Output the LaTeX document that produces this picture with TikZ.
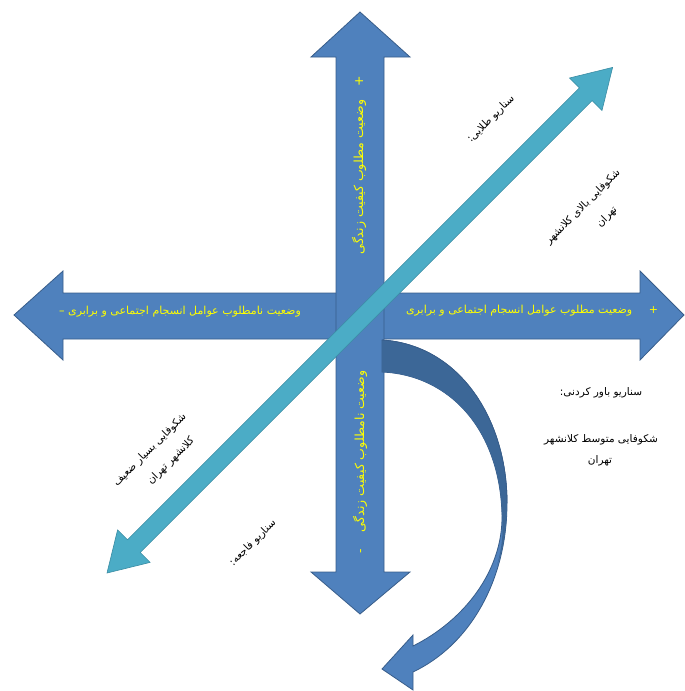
\documentclass[tikz,border=0pt]{standalone}
\usepackage{fontspec}
\newfontfamily\arfont[Script=Arabic]{DejaVu Sans}
\TeXXeTstate=1
\definecolor{bluefill}{HTML}{4F81BD}
\definecolor{blueline}{HTML}{385D8A}
\definecolor{bluedark}{HTML}{3C6797}
\definecolor{tealfill}{HTML}{4BACC6}
\definecolor{tealline}{HTML}{3A8CA3}
\definecolor{ylw}{HTML}{FFFF00}
\tikzset{
  bluearrow/.style={fill=bluefill, draw=blueline, line width=0.8pt, line join=miter},
  tealarrow/.style={fill=tealfill, draw=tealline, line width=0.6pt},
  ylab/.style={text=ylw, font=\arfont\fontsize{11}{13}\selectfont, inner sep=0pt},
  yvlab/.style={text=ylw, font=\arfont\fontsize{12.5}{14}\selectfont, inner sep=0pt},
  blab/.style={text=black, font=\arfont\fontsize{10.5}{12}\selectfont, inner sep=0pt},
}
\begin{document}
\begin{tikzpicture}[x=1pt, y=-1pt]
\useasboundingbox (0,0) rectangle (685,691);
% horizontal double arrow
\draw[bluearrow] (14,315) -- (63,271) -- (63,293) -- (640,293) -- (640,271) -- (684,315)
  -- (640,360) -- (640,339) -- (63,339) -- (63,360) -- cycle;
% vertical double arrow
\draw[bluearrow] (360,12) -- (410,57) -- (384,57) -- (384,572) -- (410,572) -- (360,614)
  -- (311,572) -- (336,572) -- (336,57) -- (311,57) -- cycle;
% curved arrow
\draw[bluearrow] (382,340) .. controls (460,345) and (507,420) .. (507,503)
  .. controls (507,580) and (470,645) .. (413,672)
  -- (413,690) -- (382,669) -- (413,635) -- (413,646)
  .. controls (465,620) and (503,570) .. (502,515)
  .. controls (500,430) and (450,375) .. (382,372) -- cycle;
\fill[bluedark] (382,340) .. controls (460,345) and (507,420) .. (507,503)
  .. controls (507,530) and (503,550) .. (497,565)
  .. controls (503,545) and (503,530) .. (502,515)
  .. controls (500,430) and (450,375) .. (382,372) -- cycle;
\draw[blueline, line width=0.8pt] (382,340) .. controls (460,345) and (507,420) .. (507,503);
% diagonal teal double arrow
\begin{scope}[shift={(107,573)}, rotate=45]
\draw[tealarrow] (0,0) -- (38,23) -- (38,9) -- (677,9) -- (677,23) -- (715,0)
  -- (677,-23) -- (677,-9) -- (38,-9) -- (38,-23) -- cycle;
\end{scope}
% yellow labels on the arrows
\node[yvlab, rotate=90] (vtop) at (359,165) {\beginR +\hspace{1.1em}وضعیت مطلوب کیفیت زندگی\endR};
\node[yvlab, rotate=90] (vbot) at (360,462) {\beginR وضعیت نامطلوب کیفیت زندگی\hspace{1.3em}-\endR};
\node[ylab] (hleft) at (180,312) {\beginR وضعیت نامطلوب عوامل انسجام اجتماعی و برابری –\endR};
\node[ylab] (hright) at (532,311) {\beginR +\hspace{1.5em}وضعیت مطلوب عوامل انسجام اجتماعی و برابری\endR};
% black scenario labels
\node[blab, rotate=45] (gold) at (491,119) {\beginR سناریو طلایی:\endR};
\node[blab, rotate=45] (high1) at (583,207) {\beginR شکوفایی بالای کلانشهر\endR};
\node[blab, rotate=45] (high2) at (607,217) {\beginR تهران\endR};
\node[blab] (bel) at (601,393) {\beginR سناریو باور کردنی:\endR};
\node[blab] (mid1) at (601,440) {\beginR شکوفایی متوسط کلانشهر\endR};
\node[blab] (mid2) at (600,461) {\beginR تهران\endR};
\node[blab, rotate=45] (low1) at (150,450) {\beginR شکوفایی بسیار ضعیف\endR};
\node[blab, rotate=45] (low2) at (171,461) {\beginR کلانشهر تهران\endR};
\node[blab, rotate=45] (disaster) at (253,543) {\beginR سناریو فاجعه:\endR};
\end{tikzpicture}
\end{document}
